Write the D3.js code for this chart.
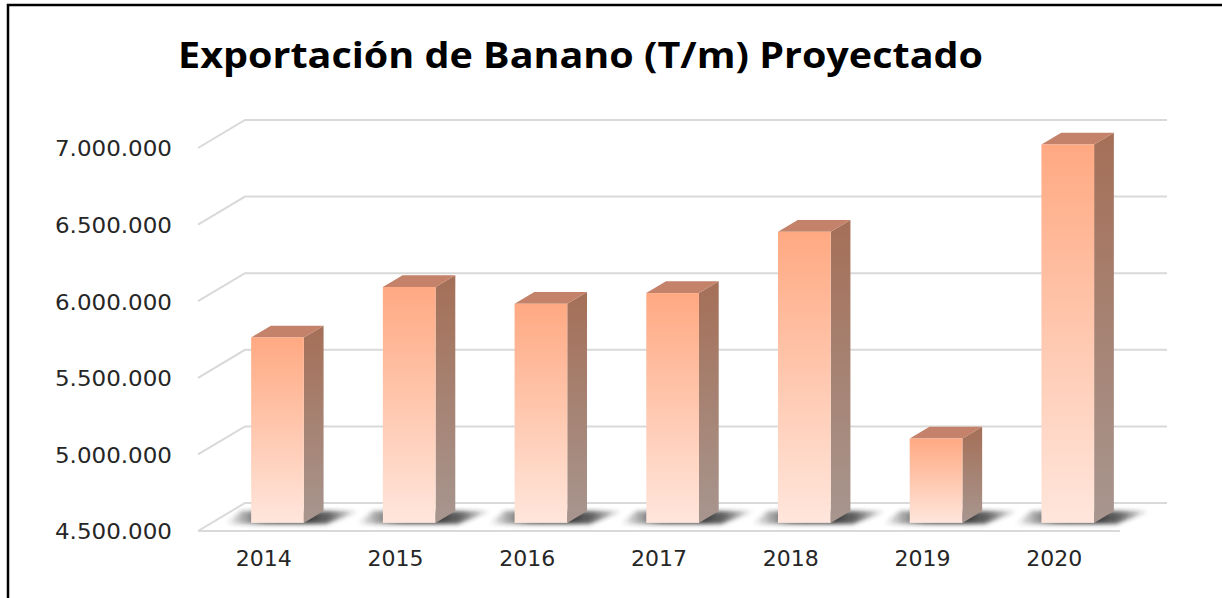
<!DOCTYPE html>
<html>
<head>
<meta charset="UTF-8">
<title>Exportación de Banano</title>
<style>
body { margin: 0; background: #fff; }
text { font-family: "DejaVu Sans", sans-serif; fill: #262626; }
</style>
</head>
<body>
<svg width="1222" height="598"></svg>
<script src="https://d3js.org/d3.v7.min.js"></script>
<script>
// data
var years = ["2014", "2015", "2016", "2017", "2018", "2019", "2020"];
var exportValues = [5710000, 6040000, 5930000, 6000000, 6400000, 5050000, 6970000];
var yTicks = [4500000, 5000000, 5500000, 6000000, 6500000, 7000000];
var title = "Exportación de Banano (T/m) Proyectado";

var svg = d3.select("svg"),
    plotLeft = 198, plotRight = 1120,
    plotBase = 531, plotTop = 148,
    depthX = 47, depthY = -28,   // floor depth offset (front -> back wall)
    f1 = 0.29, f2 = 0.71;        // bar sits between these depth fractions

var x = d3.scaleBand().domain(years).range([plotLeft, plotRight])
          .paddingInner(0.6).paddingOuter(0.3);
var y = d3.scaleLinear().domain([4500000, 7000000]).range([plotBase, plotTop]);

var es = d3.formatLocale({decimal: ",", thousands: ".", grouping: [3], currency: ["$", ""]});
var fmt = es.format(",d");

var defs = svg.append("defs");
function vgrad(id, c1, c2) {
  var g = defs.append("linearGradient").attr("id", id)
    .attr("x1", 0).attr("y1", 0).attr("x2", 0).attr("y2", 1);
  g.append("stop").attr("offset", "0%").attr("stop-color", c1);
  g.append("stop").attr("offset", "100%").attr("stop-color", c2);
}
vgrad("front", "#ffa982", "#ffe6dc");
vgrad("side", "#a56f57", "#a7968f");
var sg = defs.append("linearGradient").attr("id", "shadow")
  .attr("x1", 0).attr("y1", 0).attr("x2", 1).attr("y2", 0);
[[0, 0], [0.3, 0.85], [0.4, 0.9], [0.62, 0.9], [0.78, 0.7], [1, 0]].forEach(function(s) {
  sg.append("stop").attr("offset", s[0]).attr("stop-color", "#2a2a2a").attr("stop-opacity", s[1]);
});
defs.append("filter").attr("id", "blur").attr("x", "-20%").attr("y", "-50%")
  .attr("width", "140%").attr("height", "200%")
  .append("feGaussianBlur").attr("stdDeviation", 2.2);

// border
svg.append("rect").attr("x", 8).attr("y", 5).attr("width", 1400).attr("height", 800)
  .attr("fill", "none").attr("stroke", "#000").attr("stroke-width", 2.5);

// title
svg.append("text").text(title)
  .attr("x", 178).attr("y", 68)
  .attr("textLength", 805).attr("lengthAdjust", "spacingAndGlyphs")
  .style("font-family", "'Open Sans', sans-serif")
  .style("font-weight", "bold").style("font-size", "36px").style("fill", "#000");

// gridlines on the side and back walls
var grid = svg.append("g");
yTicks.forEach(function(t) {
  var yy = y(t);
  grid.append("path")
    .attr("d", "M" + plotLeft + "," + yy + "L" + (plotLeft + depthX) + "," + (yy + depthY) +
               "L" + (plotRight + depthX) + "," + (yy + depthY))
    .attr("fill", "none").attr("stroke", "#d9d9d9").attr("stroke-width", 2);
});
grid.append("line").attr("x1", plotLeft).attr("x2", plotRight).attr("y1", plotBase).attr("y2", plotBase)
  .attr("stroke", "#d9d9d9").attr("stroke-width", 2);

// y axis labels
var yAxis = svg.append("g").attr("transform", "translate(" + plotLeft + ",0)")
  .call(d3.axisLeft(y).tickValues(yTicks).tickFormat(fmt).tickSize(0).tickPadding(26));
yAxis.select(".domain").remove();
yAxis.selectAll("text").style("font-size", "21px").style("fill", "#262626")
  .attr("dy", "0.38em").attr("textLength", 117).attr("lengthAdjust", "spacingAndGlyphs");

// x axis labels
var xAxis = svg.append("g").attr("transform", "translate(0," + plotBase + ")")
  .call(d3.axisBottom(x).tickSize(0).tickPadding(20));
xAxis.select(".domain").remove();
xAxis.selectAll("text").style("font-size", "21px").style("fill", "#262626")
  .attr("textLength", 56).attr("lengthAdjust", "spacingAndGlyphs");

// bars
var bw = x.bandwidth();
var data = years.map(function(d, i) { return {year: d, value: exportValues[i]}; });
var bars = svg.append("g").selectAll("g").data(data).enter().append("g");

function pt(px, py) { return px + "," + py; }

bars.each(function(d) {
  var g = d3.select(this);
  var x0 = x(d.year) + f1 * depthX,
      x1 = x0 + bw,
      dx = (f2 - f1) * depthX, dy = (f2 - f1) * depthY,
      yb = plotBase + f1 * depthY,
      yt = y(d.value) + f1 * depthY;
  // floor shadow
  g.append("polygon")
    .attr("points", [pt(x0 - 26, yb + 1), pt(x1 + 22, yb + 1), pt(x1 + dx + 36, yb + dy), pt(x0 - 10, yb + dy)].join(" "))
    .attr("fill", "url(#shadow)").attr("filter", "url(#blur)");
  // side face
  g.append("polygon")
    .attr("points", [pt(x1, yt), pt(x1 + dx, yt + dy), pt(x1 + dx, yb + dy), pt(x1, yb)].join(" "))
    .attr("fill", "url(#side)");
  // top face
  g.append("polygon")
    .attr("points", [pt(x0, yt), pt(x0 + dx, yt + dy), pt(x1 + dx, yt + dy), pt(x1, yt)].join(" "))
    .attr("fill", "#c4826a");
  // front face
  g.append("rect").attr("x", x0).attr("y", yt).attr("width", bw).attr("height", yb - yt)
    .attr("fill", "url(#front)");
});
</script>
</body>
</html>
